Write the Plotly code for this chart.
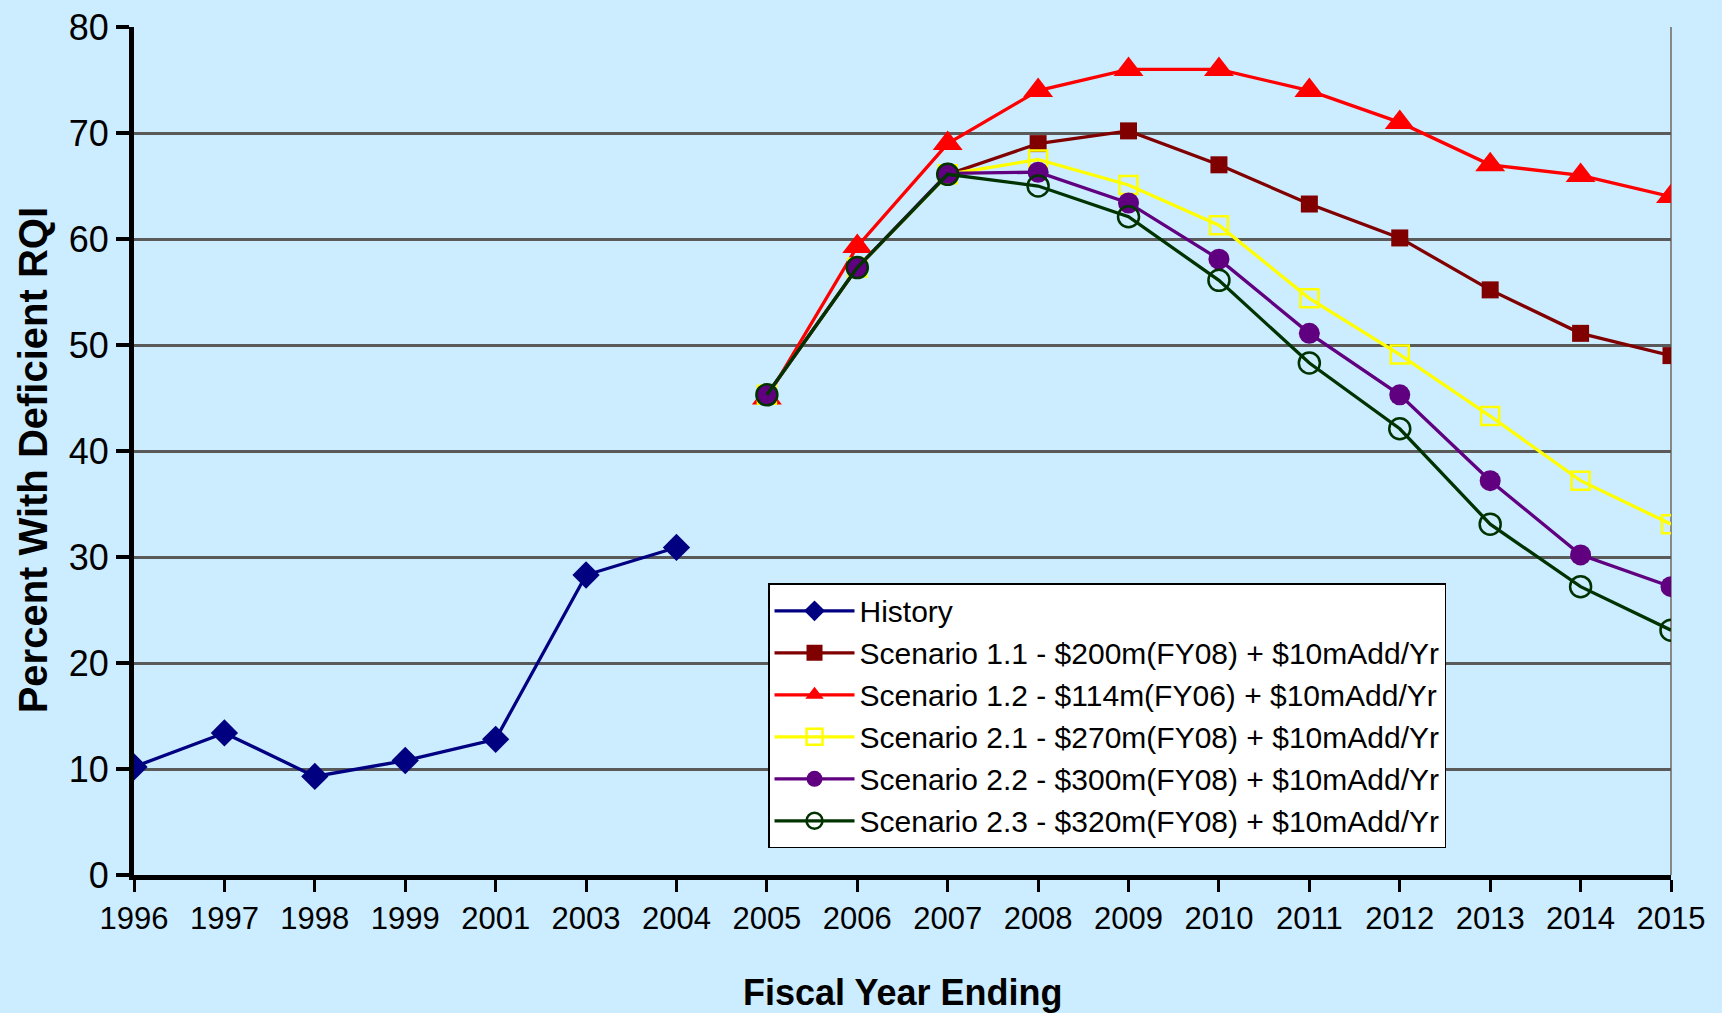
import plotly.graph_objects as go

years = ["1996", "1997", "1998", "1999", "2001", "2003", "2004", "2005", "2006",
         "2007", "2008", "2009", "2010", "2011", "2012", "2013", "2014", "2015"]

history = [10.2, 13.4, 9.3, 10.8, 12.8, 28.3, 30.9] + [None] * 11
pad = [None] * 7
s11 = pad + [45.3, 57.3, 66.1, 69.0, 70.2, 67.0, 63.3, 60.1, 55.2, 51.1, 49.0]
s12 = pad + [45.0, 59.3, 69.0, 74.0, 76.0, 76.0, 74.0, 71.0, 67.0, 66.0, 64.0]
s21 = pad + [45.3, 57.3, 66.1, 67.5, 65.1, 61.3, 54.4, 49.1, 43.3, 37.2, 33.1]
s22 = pad + [45.3, 57.3, 66.2, 66.3, 63.4, 58.1, 51.1, 45.3, 37.2, 30.2, 27.2]
s23 = pad + [45.3, 57.3, 66.1, 65.0, 62.1, 56.1, 48.3, 42.1, 33.1, 27.2, 23.1]

names = ["History",
         "Scenario 1.1 - $200m(FY08) + $10mAdd/Yr",
         "Scenario 1.2 - $114m(FY06) + $10mAdd/Yr",
         "Scenario 2.1 - $270m(FY08) + $10mAdd/Yr",
         "Scenario 2.2 - $300m(FY08) + $10mAdd/Yr",
         "Scenario 2.3 - $320m(FY08) + $10mAdd/Yr"]

x_title = "Fiscal Year Ending"
y_title = "Percent With Deficient RQI"

BG = "#CCECFF"
SANS = "Liberation Sans, Arial, sans-serif"

fig = go.Figure()

styles = [
    (history, "#000080", "diamond", 21, 0),
    (s11, "#800000", "square", 17, 0),
    (s12, "#FF0000", "triangle-up", 26, 0),
    (s21, "#FFFF00", "square-open", 18, 2.5),
    (s22, "#600080", "circle", 21, 0),
    (s23, "#003300", "circle-open", 21, 2.5),
]

for (vals, color, sym, size, lw), name in zip(styles, names):
    fig.add_trace(go.Scatter(
        x=years, y=vals, name=name, mode="lines+markers",
        line=dict(color=color, width=3.3),
        marker=dict(symbol=sym, size=size, color=color,
                    line=dict(color=color, width=lw)),
        connectgaps=False,
    ))

fig.update_layout(
    width=1722, height=1013,
    paper_bgcolor=BG, plot_bgcolor=BG,
    margin=dict(l=134, r=51, t=27, b=138, autoexpand=False),
    showlegend=True,
    legend=dict(
        x=0.4125, y=0.344, xanchor="left", yanchor="top",
        bgcolor="white", bordercolor="black", borderwidth=1.5,
        font=dict(family=SANS, size=30, color="black"),
        itemwidth=80, tracegroupgap=0,
    ),
    xaxis=dict(
        type="category", categoryorder="array", categoryarray=years,
        range=[0, 17], showgrid=False, zeroline=False, automargin=False,
        showline=True, linecolor="black", linewidth=5,
        ticks="outside", ticklen=12, tickwidth=3, tickcolor="black",
        tickfont=dict(family=SANS, size=31, color="black"),
    ),
    yaxis=dict(
        range=[0, 80], dtick=10, showgrid=True, gridcolor="#5a5a5a", gridwidth=3,
        zeroline=False, automargin=False,
        showline=True, linecolor="black", linewidth=5,
        ticks="outside", ticklen=13, tickwidth=4, tickcolor="black",
        tickfont=dict(family=SANS, size=36, color="black"),
    ),
    annotations=[
        dict(text="<b>" + x_title + "</b>", xref="paper", yref="paper",
             x=0.5, y=-0.138, xanchor="center", yanchor="middle", showarrow=False,
             font=dict(family=SANS, size=36, color="black")),
        dict(text="<b>" + y_title + "</b>", xref="paper", yref="paper",
             x=-0.0657, y=0.489, xanchor="center", yanchor="middle", showarrow=False,
             textangle=-90, font=dict(family=SANS, size=40, color="black")),
    ],
    shapes=[dict(type="line", xref="paper", yref="paper", x0=1, x1=1, y0=0, y1=1,
                 line=dict(color="#888888", width=2), layer="below")],
)

fig.write_html("out.html", config={"displayModeBar": False},
               post_script="document.body.style.margin='0';document.body.style.overflow='hidden';")
